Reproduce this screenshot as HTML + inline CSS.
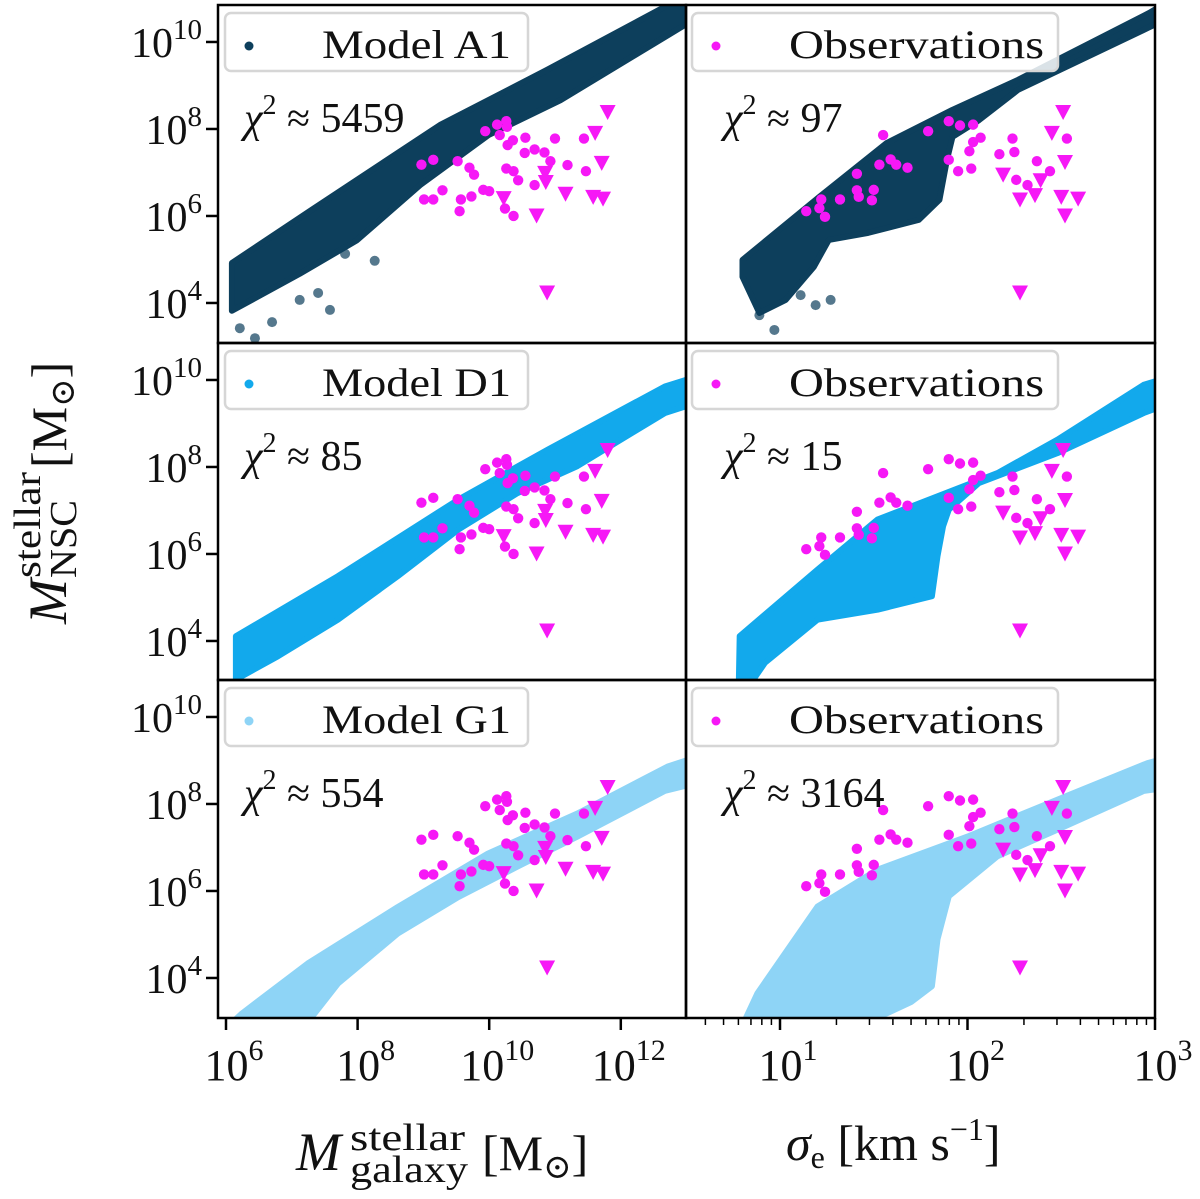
<!DOCTYPE html>
<html><head><meta charset="utf-8"><style>
html,body{margin:0;padding:0;background:#fff;}
svg{display:block;font-family:"Liberation Serif","DejaVu Serif",serif;}
</style></head><body>
<svg id="fig" width="1200" height="1199" viewBox="0 0 1200 1199" xmlns="http://www.w3.org/2000/svg"></svg>
<script>
// ---- observation data (log10 values) ----
const obsCircGal = [8.97,9.15,9.94,10.12,10.26,10.27,10.16,10.28,10.36,10.55,11.00,11.44,9.52,9.70,9.77,10.54,10.69,10.84,10.93,11.19,11.47,10.26,10.37,10.44,10.69,9.29,9.01,9.15,9.57,9.73,9.91,10.00,9.55,10.24,10.37];
const obsCircNscG = [7.18,7.29,7.95,8.10,8.18,8.05,7.86,7.63,7.74,7.80,7.78,7.78,7.26,7.11,6.95,7.45,7.53,7.46,7.26,7.17,7.03,7.09,7.03,6.82,6.71,6.59,6.38,6.38,6.38,6.45,6.60,6.57,6.11,6.17,6.00];
const obsTriGal = [11.80,11.61,11.71,10.85,10.86,10.22,11.16,11.58,11.73,10.72,10.88];
const obsTriNscG = [8.39,7.91,7.22,6.99,6.78,6.41,6.51,6.44,6.40,6.01,4.24];
const obsCircSig = [1.55,1.79,1.90,1.96,2.03,2.07,2.03,2.01,2.24,2.53,2.17,2.25,2.37,2.44,2.26,2.32,1.90,1.95,2.02,1.59,1.53,1.62,1.68,1.41,1.41,1.50,1.42,1.49,1.32,1.22,1.21,1.14,1.24];
const obsCircNscS = [7.86,7.95,8.18,8.08,8.10,7.80,7.70,7.49,7.78,7.78,7.42,7.47,7.26,7.03,6.83,6.71,7.29,7.03,7.09,7.30,7.18,7.18,7.11,6.97,6.59,6.60,6.44,6.36,6.38,6.38,6.18,6.11,5.98];
const obsTriSig = [2.51,2.45,2.52,2.19,2.39,2.36,2.28,2.50,2.59,2.52,2.28];
const obsTriNscS = [8.39,7.91,7.24,6.95,6.82,6.48,6.38,6.44,6.40,6.01,4.24];

// ---- model band outlines (log10) ----
const a1GalUpX = [6.09,7.32,9.25,10.88,12.72,13.2];
const a1GalUpY = [4.92,6.16,8.09,9.36,10.85,11.2];
const a1GalLoX = [13.2,12.72,11.08,9.99,8.95,7.99,7.12,6.09];
const a1GalLoY = [10.6,10.16,8.66,7.86,6.71,5.44,4.67,3.82];
const a1GalOutX = [6.21,6.44,6.70,7.12,7.40,7.58,7.81,8.26];
const a1GalOutY = [3.42,3.19,3.56,4.07,4.23,3.84,5.13,4.97];
const d1GalUpX = [6.15,7.70,9.53,10.89,12.67,13.2];
const d1GalUpY = [4.11,5.49,7.25,8.40,9.85,10.1];
const d1GalLoX = [13.2,12.67,11.34,10.43,9.53,8.61,7.70,6.79,6.24,6.15];
const d1GalLoY = [9.5,9.24,8.02,7.40,6.56,5.49,4.49,3.65,3.19,3.0];
const g1GalUpX = [5.9,6.24,7.24,8.61,9.98,11.34,12.71,13.2];
const g1GalUpY = [2.7,3.18,4.33,5.63,6.86,7.78,8.86,9.1];
const g1GalLoX = [13.2,12.67,11.34,10.43,9.53,8.61,7.70,7.25];
const g1GalLoY = [8.5,8.30,7.25,6.56,5.86,5.02,3.87,3.0];
const a1SigUpX = [0.80,1.21,1.57,1.92,2.27,2.97,3.1];
const a1SigUpY = [4.99,6.44,7.68,8.44,9.13,10.67,11.0];
const a1SigLoX = [3.1,2.97,2.27,2.06,1.92,1.89,1.85,1.74,1.47,1.26,1.18,1.03,0.89,0.80];
const a1SigLoY = [10.6,10.34,8.9,8.2,7.82,7.29,6.37,5.91,5.61,5.45,4.83,4.07,3.77,4.6];
const a1SigOutX = [1.11,1.19,1.27,0.97,0.89];
const a1SigOutY = [4.18,3.95,4.07,3.38,3.72];
const d1SigUpX = [0.785,1.20,1.52,2.16,2.48,2.94,3.1];
const d1SigUpY = [4.11,5.64,6.79,7.86,8.63,9.89,10.1];
const d1SigLoX = [3.1,2.94,2.48,2.06,1.90,1.87,1.84,1.81,1.52,1.20,0.92,0.84,0.78];
const d1SigLoY = [9.5,9.24,8.32,7.63,7.02,6.64,5.95,5.03,4.72,4.49,3.5,3.0,3.0];
const g1SigUpX = [0.82,0.88,1.20,1.52,2.00,2.48,2.96,3.1];
const g1SigUpY = [3.10,3.65,5.64,6.49,7.25,8.10,8.94,9.1];
const g1SigLoX = [3.1,2.94,2.48,2.16,1.90,1.84,1.81,1.70,1.55,1.40];
const g1SigLoY = [8.4,8.30,7.41,6.80,5.88,4.89,3.81,3.45,3.15,3.0];

const labels = ["Model A1","Model D1","Model G1"];
const chiGal = ["5459","85","554"];
const chiSig = ["97","15","3164"];
const colors = ["#0d3f5c","#12a9ec","#8ed4f6"];
const yTicks = [4,6,8,10];
const galTicks = [6,8,10,12];
const sigTicks = [1,2,3];

const NS = "http://www.w3.org/2000/svg";
const svg = document.getElementById('fig');
function mk(tag, attrs, parent){const e=document.createElementNS(NS,tag);for(const k in attrs)e.setAttribute(k,attrs[k]);(parent||svg).appendChild(e);return e;}

const colX=[218,686], colW=[468,469];
const rowT=[5,343,680], rowH=[338,337,338];
function yS(r,v){return rowT[r]+(10.85-v)*43.5;}
function xG(v){return 226+(v-6)*65.8;}
function xSg(v){return 780+(v-1)*187.5;}

const defs=mk('defs',{});
for(let r=0;r<3;r++)for(let c=0;c<2;c++){
  const cp=mk('clipPath',{id:'cp'+r+c},defs);
  mk('rect',{x:colX[c],y:rowT[r],width:colW[c],height:rowH[r]},cp);
}

function band(g,xs,upX,upY,loX,loY,r,col){
  const pts=[];
  for(let i=0;i<upX.length;i++)pts.push(xs(upX[i]).toFixed(1)+','+yS(r,upY[i]).toFixed(1));
  for(let i=0;i<loX.length;i++)pts.push(xs(loX[i]).toFixed(1)+','+yS(r,loY[i]).toFixed(1));
  const p=mk('polygon',{points:pts.join(' '),fill:col,stroke:col,'stroke-width':6,'stroke-linejoin':'round'},g);
  
  
}
function outliers(g,xs,ox,oy,r,col){
  for(let i=0;i<ox.length;i++){
    const c=mk('circle',{cx:xs(ox[i]),cy:yS(r,oy[i]),r:5,fill:col,'fill-opacity':0.7},g);
    
    
  }
}
function obs(g,xs,cx,cy,tx,ty,r){
  for(let i=0;i<cx.length;i++){
    const c=mk('circle',{cx:xs(cx[i]),cy:yS(r,cy[i]),r:5.2,fill:'#f618f6'},g);
    
    
  }
  for(let i=0;i<tx.length;i++){
    const x=xs(tx[i]),y=yS(r,ty[i]);
    const t=mk('polygon',{points:`${x-8},${y-7} ${x+8},${y-7} ${x},${y+8}`,fill:'#f618f6'},g);
    
    
  }
}
const bands=[[a1GalUpX,a1GalUpY,a1GalLoX,a1GalLoY,a1SigUpX,a1SigUpY,a1SigLoX,a1SigLoY],
[d1GalUpX,d1GalUpY,d1GalLoX,d1GalLoY,d1SigUpX,d1SigUpY,d1SigLoX,d1SigLoY],
[g1GalUpX,g1GalUpY,g1GalLoX,g1GalLoY,g1SigUpX,g1SigUpY,g1SigLoX,g1SigLoY]];

function legend(x,w,y,col,text,tl){
  const lg=mk('g',{},svg);
  
  
  mk('rect',{x:x,y:y,width:w,height:58,rx:6,fill:'#fff','fill-opacity':0.85,stroke:'#d6d6d6','stroke-width':2.5},lg);
  mk('circle',{cx:x+24,cy:y+33,r:4.5,fill:col},lg);
  const t=mk('text',{x:x+97,y:y+45,'font-size':40,fill:'#111',textLength:tl,lengthAdjust:'spacingAndGlyphs'},lg);t.textContent=text;
}
function chi(x,y,val){
  const t=mk('text',{x:x,y:y,'font-size':42,fill:'#111'});
  
  
  t.innerHTML='<tspan font-style="italic">χ</tspan><tspan font-size="28" dy="-18">2</tspan><tspan dy="18"> ≈ '+val+'</tspan>';
}

for(let r=0;r<3;r++){
  for(let c=0;c<2;c++){
    const g=mk('g',{'clip-path':'url(#cp'+r+c+')'});
    
    
    const b=bands[r];
    if(c==0){band(g,xG,b[0],b[1],b[2],b[3],r,colors[r]);
      if(r==0)outliers(g,xG,a1GalOutX,a1GalOutY,r,colors[r]);
      obs(g,xG,obsCircGal,obsCircNscG,obsTriGal,obsTriNscG,r);}
    else{band(g,xSg,b[4],b[5],b[6],b[7],r,colors[r]);
      if(r==0)outliers(g,xSg,a1SigOutX,a1SigOutY,r,colors[r]);
      obs(g,xSg,obsCircSig,obsCircNscS,obsTriSig,obsTriNscS,r);}
    mk('rect',{x:colX[c],y:rowT[r],width:colW[c],height:rowH[r],fill:'none',stroke:'#000','stroke-width':2.5});
  }
  legend(225,303,rowT[r]+8,colors[r],labels[r],189);
  legend(692,366,rowT[r]+8,'#f618f6','Observations',255);
  chi(244,rowT[r]+127,chiGal[r]);
  chi(724,rowT[r]+127,chiSig[r]);
  for(const v of yTicks){
    const y=yS(r,v);
    mk('line',{x1:206,x2:218,y1:y,y2:y,stroke:'#000','stroke-width':2.5});
    const t=mk('text',{x:202,y:y+15,'font-size':42,'text-anchor':'end',fill:'#111'});
    
    
    t.innerHTML='10<tspan font-size="29" dy="-18">'+v+'</tspan>';
  }
}
for(const v of galTicks){
  const x=xG(v);
  mk('line',{x1:x,x2:x,y1:1018,y2:1030,stroke:'#000','stroke-width':2.5});
  const t=mk('text',{x:x+8,y:1080,'font-size':44,'text-anchor':'middle',fill:'#111'});
  
  
  t.innerHTML='10<tspan font-size="30" dy="-20">'+v+'</tspan>';
}
for(const v of sigTicks){
  const x=xSg(v);
  mk('line',{x1:x,x2:x,y1:1018,y2:1030,stroke:'#000','stroke-width':2.5});
  const t=mk('text',{x:x+8,y:1080,'font-size':44,'text-anchor':'middle',fill:'#111'});
  
  
  t.innerHTML='10<tspan font-size="30" dy="-20">'+v+'</tspan>';
}
for(let d=0;d<3;d++)for(let m=2;m<10;m++){
  const lv=d+Math.log10(m);const x=xSg(lv);
  if(x<687||x>1155)continue;
  mk('line',{x1:x,x2:x,y1:1018,y2:1025,stroke:'#000','stroke-width':1.5});
}
let g=mk('g',{});


mk('text',{x:296,y:1170,'font-size':54,'font-style':'italic',fill:'#111'},g).textContent='M';
mk('text',{x:350,y:1150,'font-size':38,fill:'#111',textLength:115,lengthAdjust:'spacingAndGlyphs'},g).textContent='stellar';
mk('text',{x:350,y:1182,'font-size':38,fill:'#111',textLength:118,lengthAdjust:'spacingAndGlyphs'},g).textContent='galaxy';
let tt=mk('text',{x:482,y:1170,'font-size':50,fill:'#111'},g);
tt.innerHTML='[M<tspan font-size="34" dy="8">⊙</tspan><tspan dy="-8">]</tspan>';
let t=mk('text',{x:786,y:1160,'font-size':50,fill:'#111'});


t.innerHTML='<tspan font-style="italic">σ</tspan><tspan font-size="32" dy="8">e</tspan><tspan dy="-8"> [km s</tspan><tspan font-size="32" dy="-20">−1</tspan><tspan dy="20">]</tspan>';
g=mk('g',{transform:'translate(66,624) rotate(-90)'});


mk('text',{x:0,y:0,'font-size':54,'font-style':'italic',fill:'#111'},g).textContent='M';
mk('text',{x:46,y:-26,'font-size':38,fill:'#111',textLength:106,lengthAdjust:'spacingAndGlyphs'},g).textContent='stellar';
mk('text',{x:46,y:10,'font-size':38,fill:'#111',textLength:78,lengthAdjust:'spacingAndGlyphs'},g).textContent='NSC';
tt=mk('text',{x:156,y:0,'font-size':50,fill:'#111'},g);
tt.innerHTML='[M<tspan font-size="34" dy="8">⊙</tspan><tspan dy="-8">]</tspan>';
</script>
</body></html>
